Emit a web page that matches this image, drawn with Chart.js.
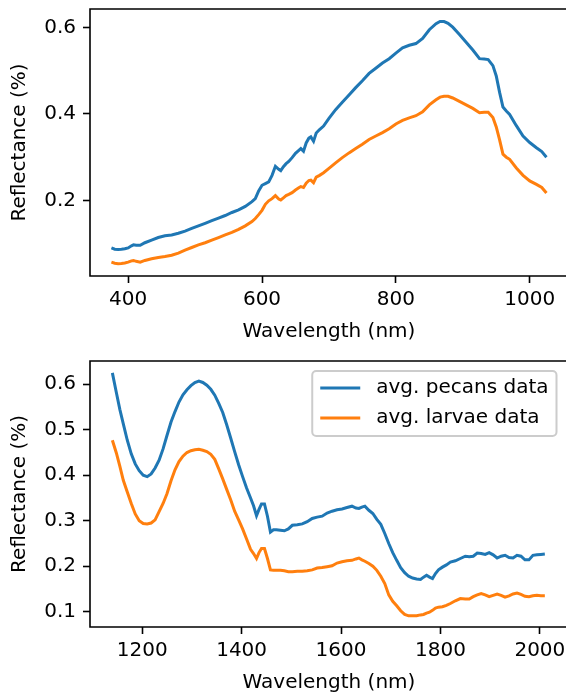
<!DOCTYPE html>
<html>
<head>
<meta charset="utf-8">
<script src="https://cdn.jsdelivr.net/npm/chart.js@4.4.0/dist/chart.umd.min.js"></script>
<style>
html, body { margin: 0; padding: 0; background: #fff; overflow: hidden; width: 566px; height: 696px; }
#visChart { position: absolute; left: 0; top: 0; }
#nirChart { position: absolute; left: 0; top: 340px; }
</style>
</head>
<body>
<canvas id="visChart" width="600" height="345"></canvas>
<canvas id="nirChart" width="600" height="356"></canvas>
<script>
// visible / near-IR range (top plot)
var visWl = [375, 380, 385, 390, 395, 400, 405, 408, 412, 418,
  425, 435, 445, 455, 465, 475, 485, 495, 505, 515,
  525, 535, 545, 555, 565, 575, 585, 590, 595, 600,
  605, 610, 615, 620, 625, 628, 632, 636, 640, 645,
  650, 655, 658, 662, 666, 670, 673, 677, 681, 686,
  692, 700, 710, 720, 730, 740, 750, 760, 770, 780,
  790, 800, 810, 820, 830, 840, 850, 860, 866, 872,
  878, 885, 895, 905, 915, 925, 932, 938, 945, 950,
  955, 960, 965, 970, 980, 990, 1000, 1010, 1018, 1025];
var visPecans = [0.090, 0.087, 0.0865, 0.087, 0.088, 0.090, 0.095, 0.097, 0.096, 0.096,
  0.102, 0.108, 0.114, 0.118, 0.120, 0.124, 0.129, 0.135, 0.141, 0.147,
  0.153, 0.159, 0.165, 0.172, 0.178, 0.186, 0.197, 0.204, 0.222, 0.235,
  0.239, 0.243, 0.258, 0.279, 0.272, 0.269, 0.278, 0.285, 0.290, 0.299,
  0.309, 0.316, 0.320, 0.314, 0.333, 0.344, 0.347, 0.337, 0.356, 0.364,
  0.372, 0.390, 0.410, 0.427, 0.444, 0.461, 0.477, 0.494, 0.506, 0.518,
  0.528, 0.541, 0.553, 0.559, 0.563, 0.575, 0.595, 0.609, 0.614, 0.614,
  0.610, 0.601, 0.584, 0.566, 0.548, 0.528, 0.527, 0.526, 0.512, 0.488,
  0.450, 0.416, 0.407, 0.399, 0.373, 0.349, 0.334, 0.322, 0.313, 0.300];
var visLarvae = [0.057, 0.0545, 0.0535, 0.054, 0.055, 0.057, 0.060, 0.061, 0.059, 0.057,
  0.061, 0.065, 0.068, 0.070, 0.073, 0.078, 0.085, 0.091, 0.097, 0.102,
  0.108, 0.114, 0.120, 0.126, 0.133, 0.141, 0.151, 0.158, 0.167, 0.177,
  0.191, 0.199, 0.204, 0.211, 0.203, 0.201, 0.206, 0.211, 0.214, 0.218,
  0.224, 0.229, 0.232, 0.230, 0.240, 0.246, 0.247, 0.241, 0.254, 0.258,
  0.264, 0.274, 0.287, 0.299, 0.310, 0.320, 0.330, 0.341, 0.349, 0.357,
  0.366, 0.377, 0.385, 0.391, 0.396, 0.405, 0.421, 0.433, 0.439, 0.441,
  0.441, 0.437, 0.429, 0.421, 0.413, 0.403, 0.404, 0.404, 0.392, 0.370,
  0.340, 0.307, 0.300, 0.295, 0.275, 0.258, 0.245, 0.237, 0.230, 0.217];
var visXTicks = [400, 600, 800, 1000];
var visYTicks = [0.2, 0.4, 0.6];

// short-wave IR range (bottom plot)
var nirWl = [1140, 1148, 1155, 1162, 1170, 1178, 1186, 1194, 1202, 1210,
  1218, 1226, 1234, 1242, 1250, 1258, 1266, 1274, 1282, 1290,
  1298, 1306, 1314, 1322, 1330, 1338, 1346, 1354, 1362, 1370,
  1378, 1386, 1394, 1402, 1410, 1418, 1424, 1430, 1435, 1440,
  1446, 1452, 1458, 1464, 1470, 1478, 1486, 1494, 1502, 1512,
  1522, 1532, 1542, 1552, 1562, 1572, 1582, 1592, 1602, 1612,
  1622, 1630, 1636, 1642, 1648, 1656, 1664, 1672, 1680, 1688,
  1696, 1704, 1712, 1720, 1728, 1736, 1744, 1752, 1760, 1766,
  1772, 1778, 1784, 1790, 1796, 1804, 1812, 1820, 1830, 1840,
  1850, 1858, 1866, 1874, 1882, 1890, 1898, 1906, 1914, 1922,
  1930, 1938, 1946, 1954, 1962, 1970, 1978, 1986, 1994, 2002,
  2010];
var nirPecans = [0.625, 0.582, 0.545, 0.513, 0.477, 0.447, 0.425, 0.410, 0.400, 0.397,
  0.403, 0.416, 0.433, 0.458, 0.488, 0.517, 0.540, 0.561, 0.577, 0.588,
  0.597, 0.604, 0.607, 0.604, 0.598, 0.589, 0.576, 0.558, 0.538, 0.511,
  0.482, 0.452, 0.423, 0.397, 0.372, 0.350, 0.333, 0.311, 0.325, 0.337,
  0.337, 0.310, 0.275, 0.280, 0.280, 0.279, 0.278, 0.282, 0.290, 0.291,
  0.293, 0.298, 0.305, 0.308, 0.310, 0.317, 0.321, 0.324, 0.326, 0.329,
  0.332, 0.328, 0.327, 0.330, 0.332, 0.323, 0.316, 0.303, 0.292, 0.272,
  0.250, 0.230, 0.213, 0.197, 0.186, 0.178, 0.174, 0.172, 0.171, 0.176,
  0.180, 0.176, 0.173, 0.184, 0.192, 0.198, 0.203, 0.209, 0.212, 0.217,
  0.222, 0.221, 0.222, 0.229, 0.228, 0.226, 0.230, 0.225, 0.218, 0.222,
  0.224, 0.219, 0.218, 0.224, 0.222, 0.214, 0.214, 0.224, 0.225, 0.226,
  0.227];
var nirLarvae = [0.477, 0.449, 0.420, 0.389, 0.363, 0.338, 0.315, 0.300, 0.294, 0.293,
  0.295, 0.302, 0.320, 0.338, 0.360, 0.388, 0.412, 0.430, 0.442, 0.450,
  0.454, 0.456, 0.457, 0.455, 0.452, 0.446, 0.435, 0.414, 0.392, 0.369,
  0.346, 0.321, 0.302, 0.282, 0.260, 0.237, 0.228, 0.217, 0.230, 0.239,
  0.239, 0.217, 0.192, 0.191, 0.191, 0.191, 0.190, 0.188, 0.188, 0.189,
  0.189, 0.190, 0.192, 0.196, 0.197, 0.199, 0.201, 0.207, 0.210, 0.212,
  0.213, 0.216, 0.218, 0.214, 0.211, 0.206, 0.200, 0.191, 0.178, 0.162,
  0.137, 0.123, 0.113, 0.102, 0.094, 0.091, 0.091, 0.091, 0.093, 0.094,
  0.097, 0.099, 0.103, 0.108, 0.110, 0.111, 0.114, 0.118, 0.124, 0.129,
  0.128, 0.128, 0.133, 0.137, 0.140, 0.137, 0.133, 0.136, 0.139, 0.136,
  0.132, 0.135, 0.139, 0.141, 0.138, 0.134, 0.133, 0.135, 0.136, 0.135,
  0.135];
var nirXTicks = [1200, 1400, 1600, 1800, 2000];
var nirYTicks = [0.1, 0.2, 0.3, 0.4, 0.5, 0.6];

var seriesNames = ["avg. pecans data", "avg. larvae data"];
var blue = "#1f77b4";
var orange = "#ff7f0e";

Chart.defaults.font.family = "'DejaVu Sans', sans-serif";
Chart.defaults.font.size = 20;
Chart.defaults.color = "#000";

// box around the axes; the right side falls outside the cropped picture
var framePlugin = {
  id: "frame",
  afterDatasetsDraw: function(chart) {
    var a = chart.chartArea, ctx = chart.ctx;
    ctx.save();
    ctx.strokeStyle = "#000";
    ctx.lineWidth = 1.6;
    ctx.beginPath();
    ctx.moveTo(a.right + 2, a.top);
    ctx.lineTo(a.left, a.top);
    ctx.lineTo(a.left, a.bottom);
    ctx.lineTo(a.right + 2, a.bottom);
    ctx.stroke();
    ctx.restore();
  }
};

// legend drawn inside the plot, upper right
var boxLegend = {
  id: "boxLegend",
  afterDraw: function(chart) {
    var ctx = chart.ctx, a = chart.chartArea;
    var sets = chart.data.datasets;
    ctx.save();
    ctx.font = "20px 'DejaVu Sans'";
    var tw = 0;
    sets.forEach(function(d) { tw = Math.max(tw, ctx.measureText(d.label).width); });
    var w = 8 + 40 + 16 + tw + 8, h = 65;
    var x = 556.5 - w, y = a.top + 10;
    ctx.beginPath();
    ctx.roundRect(x, y, w, h, 4);
    ctx.fillStyle = "rgba(255,255,255,0.8)";
    ctx.fill();
    ctx.strokeStyle = "#cccccc";
    ctx.lineWidth = 2;
    ctx.stroke();
    sets.forEach(function(d, i) {
      var cy = y + 17 + i * 30;
      ctx.beginPath();
      ctx.moveTo(x + 8, cy);
      ctx.lineTo(x + 48, cy);
      ctx.strokeStyle = d.borderColor;
      ctx.lineWidth = 3;
      ctx.stroke();
      ctx.fillStyle = "#000";
      ctx.textAlign = "left";
      ctx.textBaseline = "middle";
      ctx.fillText(d.label, x + 64, cy);
    });
    ctx.restore();
  }
};

function pts(xs, ys) {
  return xs.map(function(x, i) { return {x: x, y: ys[i]}; });
}

function makeChart(id, wl, pecans, larvae, xTicks, yTicks, xr, yr, pad, withLegend) {
  return new Chart(document.getElementById(id), {
    type: "line",
    data: {
      datasets: [
        {label: seriesNames[0], data: pts(wl, pecans), borderColor: blue, backgroundColor: blue,
         borderWidth: 3, pointRadius: 0, tension: 0, fill: false, order: 1},
        {label: seriesNames[1], data: pts(wl, larvae), borderColor: orange, backgroundColor: orange,
         borderWidth: 3, pointRadius: 0, tension: 0, fill: false, order: 0}
      ]
    },
    options: {
      responsive: false,
      animation: false,
      devicePixelRatio: 1,
      layout: {padding: {top: pad.top, right: pad.right, left: 0, bottom: 0}},
      plugins: {legend: {display: false}, tooltip: {enabled: false}},
      scales: {
        x: {
          type: "linear", min: xr[0], max: xr[1],
          afterBuildTicks: function(s) { s.ticks = xTicks.map(function(v) { return {value: v}; }); },
          afterFit: function(s) { s.height = pad.xh; s.paddingLeft = 0; s.paddingRight = 0; },
          grid: {drawOnChartArea: false, drawTicks: true, tickLength: 7, tickWidth: 1.6, tickColor: "#000"},
          border: {display: false},
          ticks: {padding: 5, maxRotation: 0, autoSkip: false, callback: function(v) { return String(v); }},
          title: {display: true, text: "Wavelength (nm)", padding: {top: 0, bottom: 1}}
        },
        y: {
          type: "linear", min: yr[0], max: yr[1],
          afterBuildTicks: function(s) { s.ticks = yTicks.map(function(v) { return {value: v}; }); },
          afterFit: function(s) { s.width = 90; s.paddingTop = 0; s.paddingBottom = 0; },
          grid: {drawOnChartArea: false, drawTicks: true, tickLength: 7, tickWidth: 1.6, tickColor: "#000"},
          border: {display: false},
          ticks: {padding: 7, autoSkip: false, callback: function(v) { return v.toFixed(1); }},
          title: {display: true, text: "Reflectance (%)", padding: {top: 7.5, bottom: 0}}
        }
      }
    },
    plugins: withLegend ? [framePlugin, boxLegend] : [framePlugin]
  });
}

makeChart("visChart", visWl, visPecans, visLarvae, visXTicks, visYTicks,
  [343, 1057.2], [0.025, 0.643], {top: 9, right: 32, xh: 69}, false);
makeChart("nirChart", nirWl, nirPecans, nirLarvae, nirXTicks, nirYTicks,
  [1095, 2056.6], [0.0664, 0.6512], {top: 21, right: 32, xh: 69}, true);
</script>
</body>
</html>
